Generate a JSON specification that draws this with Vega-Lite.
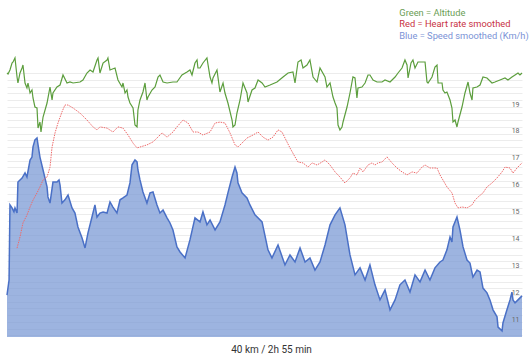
{
  "$schema": "https://vega.github.io/schema/vega-lite/v6.json",
  "width": 515,
  "height": 337,
  "autosize": {"type": "none"},
  "padding": {"left": 7, "top": 0, "right": 8, "bottom": 23},
  "background": "white",
  "config": {"view": {"stroke": null}, "font": "Roboto"},
  "title": {"text": "40 km / 2h 55 min", "orient": "bottom", "anchor": "middle", "fontSize": 10, "fontWeight": "normal", "color": "#333333", "font": "Roboto", "offset": 8, "dx": 7},
  "datasets": {
    "speed": [
      {"km":0,"kmh":11.75},{"km":0.16,"kmh":12.31},{"km":0.23,"kmh":15.10},{"km":0.39,"kmh":14.99},{"km":0.54,"kmh":14.84},{"km":0.62,"kmh":14.99},{"km":0.78,"kmh":14.80},{"km":0.85,"kmh":15.95},{"km":1.01,"kmh":16.03},{"km":1.17,"kmh":16.10},{"km":1.40,"kmh":16.29},{"km":1.55,"kmh":16.14},{"km":1.79,"kmh":16.77},{"km":1.94,"kmh":16.88},{"km":2.02,"kmh":17.26},{"km":2.17,"kmh":17.52},{"km":2.33,"kmh":17.59},{"km":2.41,"kmh":17.33},{"km":2.56,"kmh":16.88},{"km":2.80,"kmh":16.40},{"km":3.11,"kmh":15.77},{"km":3.18,"kmh":15.40},{"km":3.34,"kmh":15.17},{"km":3.57,"kmh":15.95},{"km":3.88,"kmh":15.95},{"km":4.04,"kmh":16.03},{"km":4.12,"kmh":15.84},{"km":4.27,"kmh":15.17},{"km":4.50,"kmh":15.29},{"km":4.74,"kmh":15.47},{"km":5.05,"kmh":14.99},{"km":5.28,"kmh":14.80},{"km":5.51,"kmh":14.28},{"km":5.83,"kmh":13.87},{"km":6.06,"kmh":13.50},{"km":6.29,"kmh":14.06},{"km":6.60,"kmh":14.65},{"km":6.83,"kmh":15.10},{"km":6.99,"kmh":14.65},{"km":7.22,"kmh":14.80},{"km":7.46,"kmh":14.84},{"km":7.77,"kmh":14.80},{"km":8.00,"kmh":15.21},{"km":8.23,"kmh":15.02},{"km":8.54,"kmh":14.80},{"km":8.78,"kmh":15.29},{"km":9.01,"kmh":15.36},{"km":9.32,"kmh":15.47},{"km":9.55,"kmh":15.92},{"km":9.71,"kmh":16.59},{"km":9.94,"kmh":16.77},{"km":10.10,"kmh":16.70},{"km":10.17,"kmh":16.40},{"km":10.33,"kmh":16.03},{"km":10.56,"kmh":15.58},{"km":10.87,"kmh":15.17},{"km":11.11,"kmh":15.55},{"km":11.34,"kmh":15.58},{"km":11.65,"kmh":15.10},{"km":11.88,"kmh":14.80},{"km":12.12,"kmh":14.91},{"km":12.43,"kmh":14.62},{"km":12.66,"kmh":14.43},{"km":12.89,"kmh":14.17},{"km":13.20,"kmh":13.54},{"km":13.44,"kmh":13.35},{"km":13.83,"kmh":13.13},{"km":14.21,"kmh":13.80},{"km":14.60,"kmh":14.62},{"km":14.99,"kmh":14.47},{"km":15.22,"kmh":14.84},{"km":15.53,"kmh":14.36},{"km":15.77,"kmh":14.54},{"km":16.16,"kmh":14.17},{"km":16.54,"kmh":14.47},{"km":16.93,"kmh":15.10},{"km":17.16,"kmh":15.55},{"km":17.48,"kmh":16.14},{"km":17.71,"kmh":16.51},{"km":17.86,"kmh":16.29},{"km":17.94,"kmh":15.92},{"km":18.25,"kmh":15.55},{"km":18.64,"kmh":15.36},{"km":18.87,"kmh":15.10},{"km":19.26,"kmh":14.73},{"km":19.81,"kmh":14.47},{"km":20.27,"kmh":13.43},{"km":20.58,"kmh":13.13},{"km":21.05,"kmh":13.61},{"km":21.59,"kmh":12.87},{"km":21.98,"kmh":13.24},{"km":22.37,"kmh":12.98},{"km":22.76,"kmh":13.50},{"km":23.15,"kmh":12.98},{"km":23.53,"kmh":13.13},{"km":23.92,"kmh":12.68},{"km":24.31,"kmh":12.98},{"km":24.70,"kmh":13.61},{"km":25.09,"kmh":14.36},{"km":25.48,"kmh":14.73},{"km":25.86,"kmh":14.99},{"km":26.25,"kmh":14.36},{"km":26.64,"kmh":13.24},{"km":27.03,"kmh":12.50},{"km":27.42,"kmh":12.76},{"km":27.81,"kmh":12.31},{"km":28.19,"kmh":12.87},{"km":28.58,"kmh":12.13},{"km":28.97,"kmh":11.57},{"km":29.36,"kmh":11.94},{"km":29.75,"kmh":11.20},{"km":30.14,"kmh":11.57},{"km":30.52,"kmh":12.13},{"km":30.91,"kmh":12.31},{"km":31.30,"kmh":11.86},{"km":31.69,"kmh":12.50},{"km":32.08,"kmh":12.24},{"km":32.47,"kmh":12.68},{"km":32.85,"kmh":12.31},{"km":33.24,"kmh":12.76},{"km":33.63,"kmh":12.98},{"km":33.86,"kmh":13.05},{"km":34.17,"kmh":13.43},{"km":34.41,"kmh":13.91},{"km":34.56,"kmh":13.72},{"km":34.64,"kmh":14.28},{"km":34.95,"kmh":14.65},{"km":35.18,"kmh":14.17},{"km":35.42,"kmh":13.54},{"km":35.73,"kmh":13.05},{"km":35.96,"kmh":12.94},{"km":36.12,"kmh":12.57},{"km":36.19,"kmh":12.42},{"km":36.51,"kmh":12.68},{"km":36.74,"kmh":12.61},{"km":36.97,"kmh":12.01},{"km":37.28,"kmh":11.83},{"km":37.51,"kmh":11.57},{"km":37.75,"kmh":11.20},{"km":38.06,"kmh":10.94},{"km":38.14,"kmh":10.56},{"km":38.45,"kmh":10.42},{"km":38.52,"kmh":10.71},{"km":38.83,"kmh":11.20},{"km":39.07,"kmh":11.57},{"km":39.22,"kmh":11.86},{"km":39.30,"kmh":11.57},{"km":39.46,"kmh":11.46},{"km":39.69,"kmh":11.57},{"km":40.00,"kmh":11.72}
    ],
    "hr": [
      {"km":0.78,"bpm":117.3},{"km":1.01,"bpm":121.0},{"km":1.24,"bpm":125.7},{"km":1.55,"bpm":128.3},{"km":1.79,"bpm":131.0},{"km":2.02,"bpm":133.3},{"km":2.33,"bpm":135.7},{"km":2.56,"bpm":137.7},{"km":2.80,"bpm":140.0},{"km":3.11,"bpm":141.0},{"km":3.34,"bpm":144.3},{"km":3.50,"bpm":151.0},{"km":3.73,"bpm":155.7},{"km":3.96,"bpm":159.0},{"km":4.27,"bpm":162.7},{"km":4.50,"bpm":165.0},{"km":4.74,"bpm":165.0},{"km":5.13,"bpm":164.0},{"km":5.67,"bpm":162.3},{"km":6.21,"bpm":160.0},{"km":6.68,"bpm":157.7},{"km":6.99,"bpm":156.7},{"km":7.22,"bpm":157.7},{"km":7.77,"bpm":157.3},{"km":8.23,"bpm":156.0},{"km":8.62,"bpm":157.7},{"km":9.01,"bpm":157.3},{"km":9.40,"bpm":155.0},{"km":9.79,"bpm":152.3},{"km":10.10,"bpm":150.7},{"km":10.33,"bpm":151.0},{"km":10.87,"bpm":151.7},{"km":11.34,"bpm":152.7},{"km":11.65,"bpm":154.0},{"km":12.04,"bpm":155.7},{"km":12.43,"bpm":154.3},{"km":12.89,"bpm":156.0},{"km":13.20,"bpm":157.7},{"km":13.67,"bpm":160.0},{"km":14.06,"bpm":159.0},{"km":14.45,"bpm":156.0},{"km":14.83,"bpm":156.0},{"km":15.22,"bpm":155.0},{"km":15.77,"bpm":156.0},{"km":16.16,"bpm":159.0},{"km":16.54,"bpm":159.3},{"km":16.93,"bpm":159.0},{"km":17.32,"bpm":155.7},{"km":17.71,"bpm":151.7},{"km":17.94,"bpm":151.0},{"km":18.25,"bpm":152.3},{"km":18.64,"bpm":154.0},{"km":19.11,"bpm":155.0},{"km":19.50,"bpm":156.0},{"km":19.88,"bpm":154.3},{"km":20.27,"bpm":153.3},{"km":20.66,"bpm":154.3},{"km":21.05,"bpm":156.7},{"km":21.36,"bpm":156.0},{"km":21.59,"bpm":154.0},{"km":21.98,"bpm":150.7},{"km":22.37,"bpm":147.7},{"km":22.60,"bpm":146.0},{"km":22.99,"bpm":145.7},{"km":23.38,"bpm":144.3},{"km":23.69,"bpm":145.7},{"km":24.08,"bpm":145.0},{"km":24.47,"bpm":146.0},{"km":24.70,"bpm":146.7},{"km":25.09,"bpm":145.0},{"km":25.48,"bpm":142.7},{"km":25.86,"bpm":141.0},{"km":26.25,"bpm":139.0},{"km":26.64,"bpm":140.7},{"km":26.87,"bpm":142.3},{"km":27.18,"bpm":141.7},{"km":27.42,"bpm":144.0},{"km":27.65,"bpm":142.7},{"km":28.04,"bpm":145.0},{"km":28.35,"bpm":145.7},{"km":28.58,"bpm":145.0},{"km":28.82,"bpm":145.7},{"km":29.13,"bpm":146.0},{"km":29.51,"bpm":147.7},{"km":29.90,"bpm":145.7},{"km":30.29,"bpm":144.0},{"km":30.68,"bpm":142.7},{"km":31.07,"bpm":141.7},{"km":31.46,"bpm":142.7},{"km":31.84,"bpm":142.3},{"km":32.23,"bpm":144.3},{"km":32.47,"bpm":145.0},{"km":32.85,"bpm":144.0},{"km":33.40,"bpm":144.0},{"km":33.63,"bpm":141.7},{"km":33.86,"bpm":140.0},{"km":34.17,"bpm":137.7},{"km":34.56,"bpm":135.7},{"km":34.80,"bpm":132.3},{"km":35.03,"bpm":130.7},{"km":35.34,"bpm":131.0},{"km":35.73,"bpm":130.7},{"km":36.12,"bpm":131.7},{"km":36.35,"bpm":133.3},{"km":36.58,"bpm":134.3},{"km":36.97,"bpm":135.7},{"km":37.28,"bpm":137.7},{"km":37.67,"bpm":139.0},{"km":38.06,"bpm":140.7},{"km":38.45,"bpm":142.7},{"km":38.68,"bpm":144.3},{"km":39.07,"bpm":144.0},{"km":39.30,"bpm":142.3},{"km":39.61,"bpm":144.0},{"km":39.84,"bpm":145.0},{"km":40.00,"bpm":145.7}
    ],
    "alt": [
      {"km":0,"m":327},{"km":0.08,"m":326},{"km":0.23,"m":330},{"km":0.39,"m":337},{"km":0.47,"m":338},{"km":0.62,"m":342},{"km":0.78,"m":323},{"km":0.85,"m":317},{"km":1.01,"m":327},{"km":1.17,"m":332},{"km":1.24,"m":335},{"km":1.40,"m":317},{"km":1.55,"m":312},{"km":1.63,"m":317},{"km":1.79,"m":307},{"km":1.94,"m":310},{"km":2.02,"m":302},{"km":2.17,"m":293},{"km":2.33,"m":292},{"km":2.41,"m":272},{"km":2.56,"m":278},{"km":2.64,"m":268},{"km":2.80,"m":283},{"km":3.11,"m":297},{"km":3.34,"m":313},{"km":3.50,"m":300},{"km":3.57,"m":307},{"km":3.88,"m":313},{"km":4.12,"m":315},{"km":4.35,"m":325},{"km":4.66,"m":317},{"km":4.89,"m":318},{"km":5.13,"m":317},{"km":5.67,"m":318},{"km":5.90,"m":320},{"km":6.21,"m":327},{"km":6.45,"m":330},{"km":6.68,"m":328},{"km":6.99,"m":340},{"km":7.07,"m":342},{"km":7.22,"m":327},{"km":7.46,"m":337},{"km":7.77,"m":340},{"km":7.84,"m":342},{"km":8.00,"m":330},{"km":8.39,"m":332},{"km":8.62,"m":320},{"km":8.93,"m":313},{"km":9.01,"m":317},{"km":9.17,"m":307},{"km":9.32,"m":310},{"km":9.40,"m":303},{"km":9.55,"m":297},{"km":9.79,"m":292},{"km":9.94,"m":275},{"km":10.10,"m":273},{"km":10.17,"m":290},{"km":10.33,"m":300},{"km":10.56,"m":308},{"km":10.72,"m":317},{"km":10.87,"m":300},{"km":10.95,"m":303},{"km":11.26,"m":310},{"km":11.50,"m":313},{"km":11.73,"m":323},{"km":11.88,"m":325},{"km":12.12,"m":318},{"km":12.43,"m":317},{"km":12.89,"m":318},{"km":13.20,"m":318},{"km":13.59,"m":325},{"km":13.98,"m":328},{"km":14.21,"m":330},{"km":14.37,"m":325},{"km":14.60,"m":337},{"km":14.76,"m":340},{"km":14.83,"m":332},{"km":14.99,"m":332},{"km":15.22,"m":337},{"km":15.53,"m":342},{"km":15.77,"m":323},{"km":15.92,"m":317},{"km":16.00,"m":322},{"km":16.31,"m":330},{"km":16.54,"m":308},{"km":16.78,"m":317},{"km":16.93,"m":307},{"km":17.16,"m":297},{"km":17.48,"m":280},{"km":17.55,"m":273},{"km":17.71,"m":275},{"km":17.86,"m":287},{"km":18.10,"m":300},{"km":18.33,"m":317},{"km":18.64,"m":307},{"km":18.72,"m":298},{"km":19.03,"m":310},{"km":19.26,"m":312},{"km":19.50,"m":320},{"km":19.81,"m":317},{"km":20.04,"m":313},{"km":20.43,"m":315},{"km":20.97,"m":318},{"km":21.44,"m":323},{"km":21.83,"m":327},{"km":22.21,"m":328},{"km":22.37,"m":317},{"km":22.60,"m":338},{"km":22.84,"m":340},{"km":22.99,"m":332},{"km":23.30,"m":335},{"km":23.53,"m":340},{"km":23.77,"m":323},{"km":24.08,"m":318},{"km":24.31,"m":332},{"km":24.70,"m":323},{"km":24.85,"m":313},{"km":25.09,"m":317},{"km":25.32,"m":303},{"km":25.48,"m":297},{"km":25.63,"m":292},{"km":25.71,"m":275},{"km":25.86,"m":270},{"km":26.02,"m":273},{"km":26.10,"m":278},{"km":26.41,"m":293},{"km":26.64,"m":307},{"km":26.87,"m":323},{"km":27.03,"m":322},{"km":27.18,"m":302},{"km":27.26,"m":312},{"km":27.57,"m":313},{"km":27.81,"m":317},{"km":28.04,"m":325},{"km":28.19,"m":325},{"km":28.43,"m":320},{"km":28.74,"m":318},{"km":29.13,"m":318},{"km":29.36,"m":320},{"km":29.75,"m":318},{"km":30.14,"m":323},{"km":30.37,"m":327},{"km":30.68,"m":332},{"km":30.91,"m":340},{"km":31.07,"m":335},{"km":31.15,"m":322},{"km":31.38,"m":337},{"km":31.53,"m":340},{"km":31.69,"m":332},{"km":31.92,"m":338},{"km":32.47,"m":338},{"km":32.62,"m":318},{"km":32.70,"m":317},{"km":33.01,"m":323},{"km":33.24,"m":333},{"km":33.40,"m":335},{"km":33.48,"m":317},{"km":33.79,"m":317},{"km":33.86,"m":310},{"km":34.02,"m":307},{"km":34.17,"m":308},{"km":34.41,"m":300},{"km":34.56,"m":292},{"km":34.64,"m":278},{"km":34.80,"m":280},{"km":34.95,"m":273},{"km":35.03,"m":278},{"km":35.34,"m":293},{"km":35.57,"m":307},{"km":35.81,"m":318},{"km":35.96,"m":307},{"km":36.12,"m":300},{"km":36.19,"m":312},{"km":36.50,"m":313},{"km":36.74,"m":315},{"km":36.97,"m":323},{"km":37.28,"m":322},{"km":37.67,"m":317},{"km":37.90,"m":318},{"km":38.29,"m":320},{"km":38.68,"m":322},{"km":38.91,"m":320},{"km":39.22,"m":323},{"km":39.46,"m":325},{"km":39.69,"m":327},{"km":39.84,"m":325},{"km":40.00,"m":327}
    ]
  },
  "layer": [
    {
      "data": {"name": "speed"},
      "mark": {"type": "area", "color": "#7797d4", "opacity": 0.72},
      "encoding": {
        "x": {"field": "km", "type": "quantitative", "scale": {"domain": [0, 40], "nice": false, "zero": false}, "axis": null},
        "y": {"field": "kmh", "type": "quantitative", "scale": {"domain": [10.19, 22.72], "nice": false, "zero": false, "clamp": true},
          "axis": {"orient": "right", "title": null, "labels": false, "ticks": false, "domain": false, "grid": true, "gridColor": "#ececec", "gridWidth": 1, "zindex": 0,
            "values": [10.25,10.5,10.75,11,11.25,11.5,11.75,12,12.25,12.5,12.75,13,13.25,13.5,13.75,14,14.25,14.5,14.75,15,15.25,15.5,15.75,16,16.25,16.5,16.75,17,17.25,17.5,17.75,18,18.25,18.5,18.75,19,19.25,19.5,19.75,20]}}
      }
    },
    {
      "data": {"name": "speed"},
      "mark": {"type": "line", "strokeWidth": 1.5},
      "encoding": {
        "x": {"field": "km", "type": "quantitative", "axis": null},
        "y": {"field": "kmh", "type": "quantitative", "scale": {"domain": [10.19, 22.72], "nice": false, "zero": false},
          "axis": {"orient": "right", "title": null, "values": [11,12,13,14,15,16,17,18,19], "grid": false, "ticks": false, "domain": false, "labelAlign": "right", "labelBaseline": "top", "labelPadding": -3, "labelFontSize": 7, "labelColor": "#666666", "labelFont": "Roboto", "zindex": 1}},
        "color": {"datum": "Blue = Speed smoothed (Km/h)", "type": "nominal",
          "scale": {"domain": ["Green = Altitude", "Red = Heart rate smoothed", "Blue = Speed smoothed (Km/h)"], "range": ["#5c9e3d", "#ee6a6a", "#4a70c6"]},
          "legend": {"orient": "none", "legendX": 383, "legendY": 8, "title": null, "symbolOpacity": 0, "symbolSize": 0, "symbolStrokeWidth": 0, "labelOffset": 0, "labelFontSize": 9.3, "labelFont": "Roboto", "labelLimit": 300, "rowPadding": 1.5, "padding": 0,
            "labelColor": {"expr": "datum.value === 'Green = Altitude' ? '#6a9e55' : datum.value === 'Red = Heart rate smoothed' ? '#c8313f' : '#7b93d6'"}}}
      }
    },
    {
      "data": {"name": "hr"},
      "mark": {"type": "line", "strokeWidth": 1, "strokeDash": [1.5, 1]},
      "encoding": {
        "x": {"field": "km", "type": "quantitative", "axis": null},
        "y": {"field": "bpm", "type": "quantitative", "scale": {"domain": [87.67, 200], "nice": false, "zero": false}, "axis": null},
        "color": {"datum": "Red = Heart rate smoothed", "type": "nominal"}
      }
    },
    {
      "data": {"name": "alt"},
      "mark": {"type": "line", "strokeWidth": 1.2},
      "encoding": {
        "x": {"field": "km", "type": "quantitative", "axis": null},
        "y": {"field": "m", "type": "quantitative", "scale": {"domain": [63, 400], "nice": false, "zero": false}, "axis": null},
        "color": {"datum": "Green = Altitude", "type": "nominal"}
      }
    }
  ],
  "resolve": {"scale": {"y": "independent"}}
}
